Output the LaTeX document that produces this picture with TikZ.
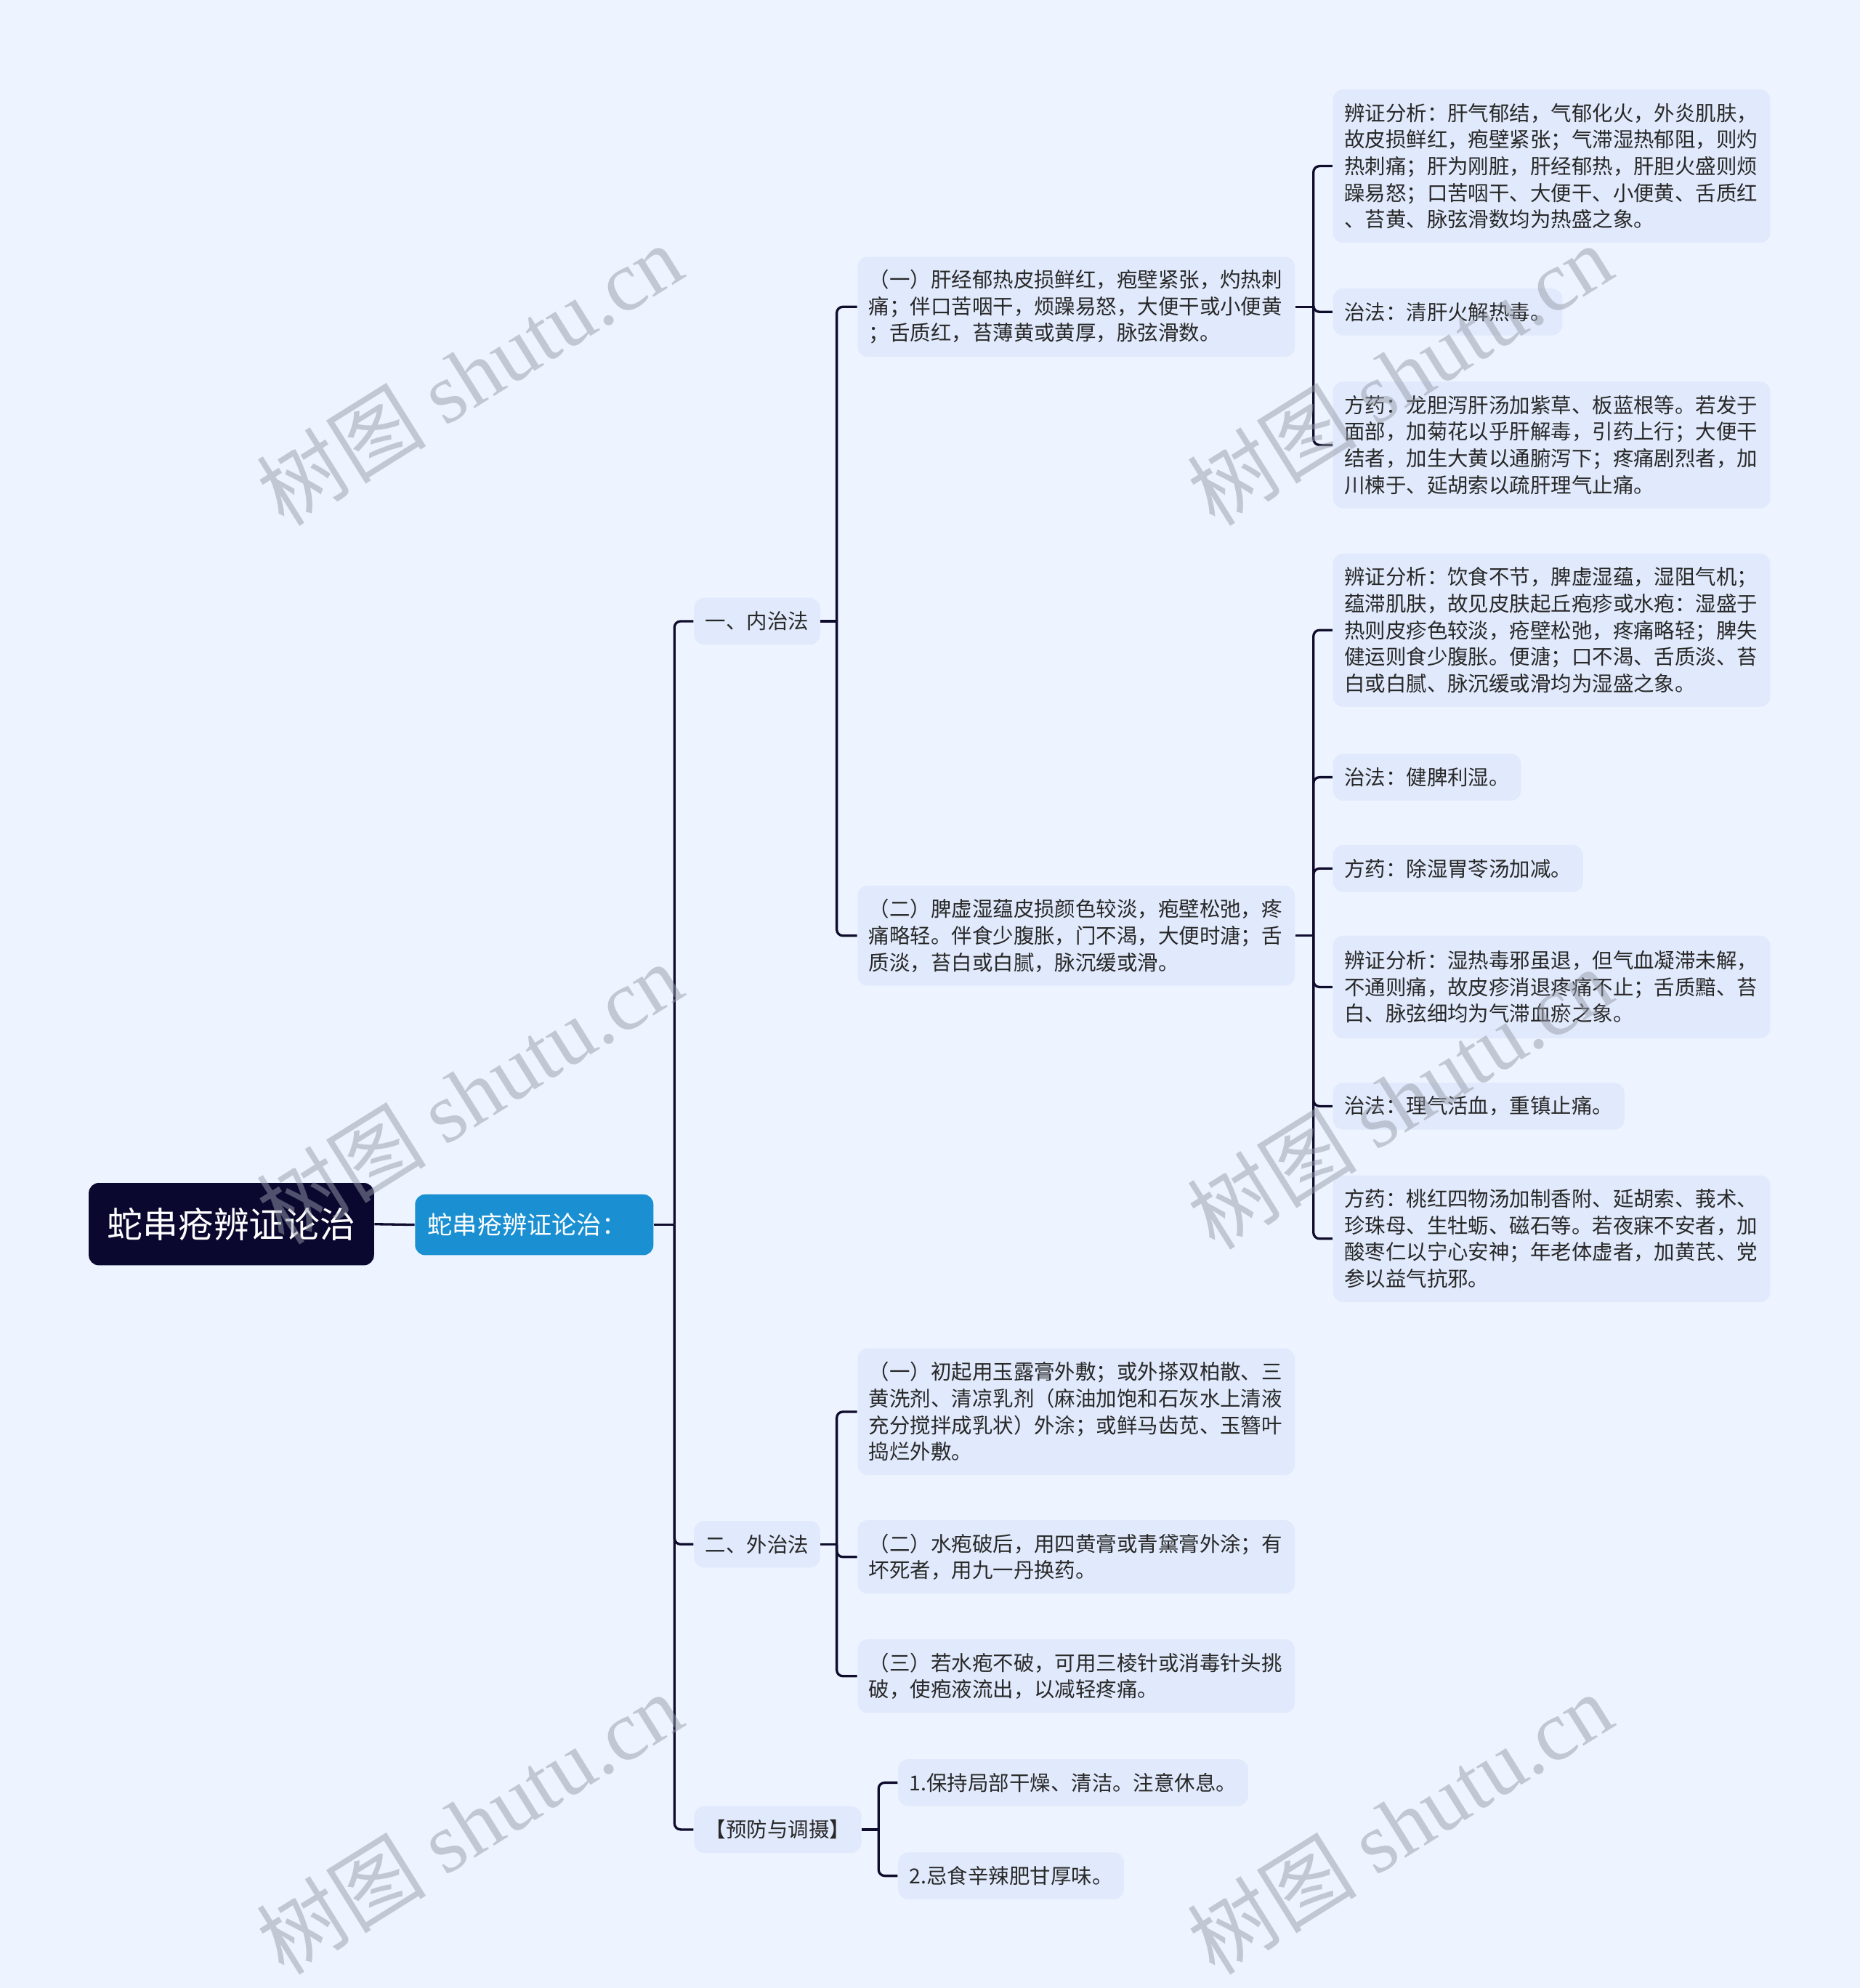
\documentclass[tikz,border=0pt]{standalone}
\usepackage{fontspec}
\setmainfont{Noto Sans CJK SC}
\newfontfamily\wmserif{Liberation Serif}
\newfontfamily\wmcjk{Noto Sans CJK SC}
\definecolor{bgc}{RGB}{238,244,255}
\definecolor{boxc}{RGB}{225,234,252}
\definecolor{linec}{RGB}{15,12,45}
\definecolor{rootc}{RGB}{11,8,48}
\definecolor{lonec}{RGB}{26,144,210}
\definecolor{txtc}{RGB}{40,40,40}
\definecolor{wmc}{RGB}{150,155,168}
\newcommand\bodyfont{\fontsize{8.15pt}{10.5pt}\selectfont}
\newcommand\wmfont{\fontsize{33.6pt}{38pt}\selectfont}
\tikzset{
  box/.style={fill=boxc, rounded corners=4pt, inner xsep=4.5pt, inner ysep=0pt,
              anchor=west, align=left, text=txtc, font=\bodyfont},
  wide/.style={box, text width=163.5pt},
  hone/.style={minimum height=18.5pt},
  htwo/.style={minimum height=29pt},
  hthree/.style={minimum height=39.5pt},
  hfour/.style={minimum height=50pt},
  hfive/.style={minimum height=60.5pt},
  conn/.style={draw=linec, line width=0.95pt, rounded corners=2.4pt},
  wm/.style={text=wmc, opacity=0.5, font=\wmfont, inner sep=0pt, rotate=32}
}
\begin{document}
\begin{tikzpicture}[x=0.5pt,y=-0.5pt]
\fill[bgc] (0,0) rectangle (1467,1568);
\useasboundingbox (0,0) rectangle (1467,1568);

% root and first level
\node[fill=rootc, rounded corners=4pt, text=white, font=\fontsize{14pt}{16pt}\selectfont,
      minimum width=112.5pt, minimum height=32.5pt, inner sep=0pt] (root) at (182.5,965.5) {蛇串疮辨证论治};
\node[fill=lonec, rounded corners=4pt, text=white, font=\fontsize{9.8pt}{12pt}\selectfont,
      anchor=west, text width=84pt, align=left, inner xsep=5pt, inner ysep=0pt, minimum height=24pt] (l1) at (327,966) {蛇串疮辨证论治：};

% level 2
\node[box,hone] (nei) at (547,490) {一、内治法};
\node[box,hone] (wai) at (547,1218) {二、外治法};
\node[box,hone] (yf) at (547,1443) {【预防与调摄】};

% level 3 under nei
\node[wide,hthree] (a1) at (676,242) {（一）肝经郁热皮损鲜红，疱壁紧张，灼热刺\\痛；伴口苦咽干，烦躁易怒，大便干或小便黄\\；舌质红，苔薄黄或黄厚，脉弦滑数。};
\node[wide,hthree] (a2) at (676,738) {（二）脾虚湿蕴皮损颜色较淡，疱壁松弛，疼\\痛略轻。伴食少腹胀，门不渴，大便时溏；舌\\质淡，苔白或白腻，脉沉缓或滑。};

% level 4 under a1
\node[wide,hfive] (a1a) at (1051,131) {辨证分析：肝气郁结，气郁化火，外炎肌肤，\\故皮损鲜红，疱壁紧张；气滞湿热郁阻，则灼\\热刺痛；肝为刚脏，肝经郁热，肝胆火盛则烦\\躁易怒；口苦咽干、大便干、小便黄、舌质红\\、苔黄、脉弦滑数均为热盛之象。};
\node[box,hone] (a1b) at (1051,246) {治法：清肝火解热毒。};
\node[wide,hfour] (a1c) at (1051,351) {方药：龙胆泻肝汤加紫草、板蓝根等。若发于\\面部，加菊花以乎肝解毒，引药上行；大便干\\结者，加生大黄以通腑泻下；疼痛剧烈者，加\\川楝于、延胡索以疏肝理气止痛。};

% level 4 under a2
\node[wide,hfive] (a2a) at (1051,497) {辨证分析：饮食不节，脾虚湿蕴，湿阻气机；\\蕴滞肌肤，故见皮肤起丘疱疹或水疱：湿盛于\\热则皮疹色较淡，疮壁松弛，疼痛略轻；脾失\\健运则食少腹胀。便溏；口不渴、舌质淡、苔\\白或白腻、脉沉缓或滑均为湿盛之象。};
\node[box,hone] (a2b) at (1051,613) {治法：健脾利湿。};
\node[box,hone] (a2c) at (1051,685) {方药：除湿胃苓汤加减。};
\node[wide,minimum height=40.5pt] (a2d) at (1051,778.5) {辨证分析：湿热毒邪虽退，但气血凝滞未解，\\不通则痛，故皮疹消退疼痛不止；舌质黯、苔\\白、脉弦细均为气滞血瘀之象。};
\node[box,hone] (a2e) at (1051,872.5) {治法：理气活血，重镇止痛。};
\node[wide,hfour] (a2f) at (1051,977) {方药：桃红四物汤加制香附、延胡索、莪术、\\珍珠母、生牡蛎、磁石等。若夜寐不安者，加\\酸枣仁以宁心安神；年老体虚者，加黄芪、党\\参以益气抗邪。};

% level 3 under wai
\node[wide,hfour] (b1) at (676,1113.5) {（一）初起用玉露膏外敷；或外搽双柏散、三\\黄洗剂、清凉乳剂（麻油加饱和石灰水上清液\\充分搅拌成乳状）外涂；或鲜马齿苋、玉簪叶\\捣烂外敷。};
\node[wide,htwo] (b2) at (676,1228) {（二）水疱破后，用四黄膏或青黛膏外涂；有\\坏死者，用九一丹换药。};
\node[wide,htwo] (b3) at (676,1322) {（三）若水疱不破，可用三棱针或消毒针头挑\\破，使疱液流出，以减轻疼痛。};

% level 3 under yf
\node[box,hone] (c1) at (708,1406) {1.保持局部干燥、清洁。注意休息。};
\node[box,hone] (c2) at (708,1479.5) {2.忌食辛辣肥甘厚味。};

% junction coordinates
\coordinate (j0) at (532,966);
\coordinate (jn) at (660,490);
\coordinate (jw) at (660,1218);
\coordinate (jy) at (693,1443);
\coordinate (ja1) at (1036,242);
\coordinate (ja2) at (1036,738);

% connectors
\draw[conn] (root.east) -- (l1.west);
\draw[conn] (l1.east) -- (j0);
\foreach \c in {nei,wai,yf} \draw[conn] (j0) |- (\c.west);
\draw[conn] (nei.east) -- (jn);
\foreach \c in {a1,a2} \draw[conn] (jn) |- (\c.west);
\draw[conn] (a1.east) -- (ja1);
\foreach \c in {a1a,a1b,a1c} \draw[conn] (ja1) |- (\c.west);
\draw[conn] (a2.east) -- (ja2);
\foreach \c in {a2a,a2b,a2c,a2d,a2e,a2f} \draw[conn] (ja2) |- (\c.west);
\draw[conn] (wai.east) -- (jw);
\foreach \c in {b1,b2,b3} \draw[conn] (jw) |- (\c.west);
\draw[conn] (yf.east) -- (jy);
\foreach \c in {c1,c2} \draw[conn] (jy) |- (\c.west);

% watermarks
\node[wm] (w1) at (370,295) {{\wmcjk 树图} {\wmserif shutu.cn}};
\node[wm] (w2) at (1104,295) {{\wmcjk 树图} {\wmserif shutu.cn}};
\node[wm] (w3) at (370,862) {{\wmcjk 树图} {\wmserif shutu.cn}};
\node[wm] (w4) at (1104,866) {{\wmcjk 树图} {\wmserif shutu.cn}};
\node[wm] (w5) at (370,1438) {{\wmcjk 树图} {\wmserif shutu.cn}};
\node[wm] (w6) at (1104,1438) {{\wmcjk 树图} {\wmserif shutu.cn}};
\end{tikzpicture}
\end{document}
